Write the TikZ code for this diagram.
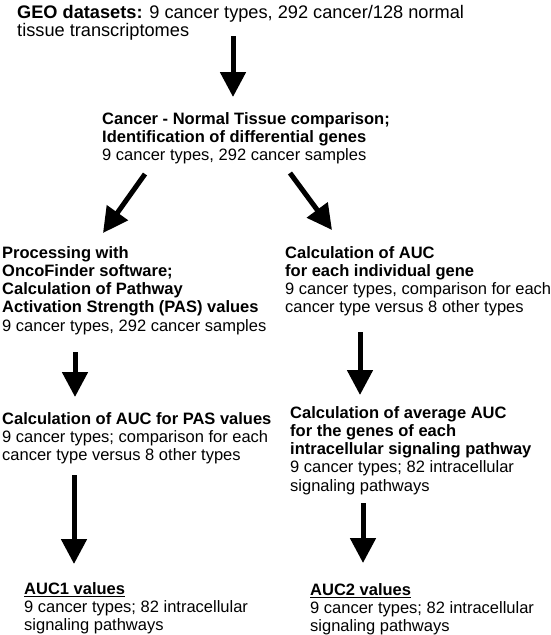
\documentclass[tikz,border=0pt]{standalone}
\usepackage{fontspec}
\setmainfont{Liberation Sans}
\usetikzlibrary{arrows.meta,positioning,calc}

\begin{document}
\begin{tikzpicture}[x=1pt,y=-1pt,
  txt/.style={anchor=north west,inner sep=0pt,align=left,font=\fontsize{16.5}{18.1}\selectfont},
  bigarrow/.style={-{Triangle[length=25pt,width=25pt]},line width=5pt}]
\useasboundingbox (0,0) rectangle (550,635);
% boxes of text
\node[txt,font=\fontsize{18.2}{18.5}\selectfont] (geo) at (17,5)
  {\textbf{GEO datasets:} 9 cancer types, 292 cancer/128 normal\\tissue transcriptomes};
\node[txt] (cmp) at (102,112.5)
  {\textbf{Cancer - Normal Tissue comparison;}\\\textbf{Identification of differential genes}\\9 cancer types, 292 cancer samples};
\node[txt] (pas) at (2,246.5)
  {\textbf{Processing with}\\\textbf{OncoFinder software;}\\\textbf{Calculation of Pathway}\\\textbf{Activation Strength (PAS) values}\\9 cancer types, 292 cancer samples};
\node[txt] (gene) at (285,246)
  {\textbf{Calculation of AUC}\\\textbf{for each individual gene}\\9 cancer types, comparison for each\\cancer type versus 8 other types};
\node[txt] (aucpas) at (2,412.5)
  {\textbf{Calculation of AUC for PAS values}\\9 cancer types; comparison for each\\cancer type versus 8 other types};
\node[txt] (avg) at (290,406.5)
  {\textbf{Calculation of average AUC}\\\textbf{for the genes of each}\\\textbf{intracellular signaling pathway}\\9 cancer types; 82 intracellular\\signaling pathways};
\node[txt] (auc1) at (24,582.5)
  {\textbf{\underline{AUC1 values}}\\9 cancer types; 82 intracellular\\signaling pathways};
\node[txt] (auc2) at (310,583)
  {\textbf{\underline{AUC2 values}}\\9 cancer types; 82 intracellular\\signaling pathways};
% arrows
\draw[bigarrow] ($(geo.north west)+(216,31)$) -- ($(cmp.north west)+(131,-15.5)$);
\draw[bigarrow] ($(cmp.north west)+(43,61.5)$) -- ($(pas.north west)+(101,-13.5)$);
\draw[bigarrow] ($(cmp.north west)+(188,60.5)$) -- ($(gene.north west)+(47,-16)$);
\draw[bigarrow] ($(pas.north west)+(73,105.5)$) -- ($(aucpas.north west)+(73,-15.5)$);
\draw[bigarrow] ($(gene.north west)+(75,86)$) -- ($(avg.north west)+(70,-11.5)$);
\draw[bigarrow] ($(aucpas.north west)+(72,62.5)$) -- ($(auc1.north west)+(50,-18.5)$);
\draw[bigarrow] ($(avg.north west)+(73,96.5)$) -- ($(auc2.north west)+(53,-20)$);
\end{tikzpicture}
\end{document}
